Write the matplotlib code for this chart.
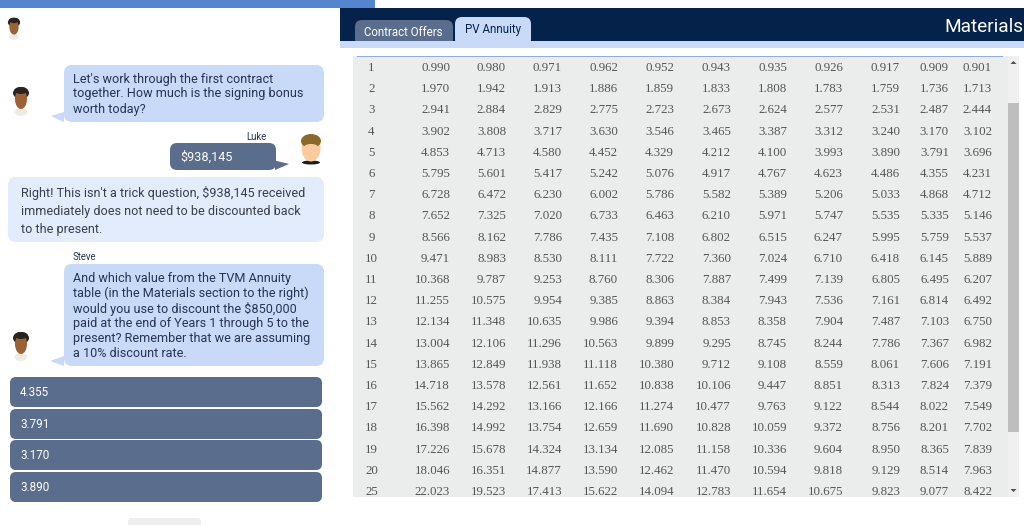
import matplotlib
matplotlib.use('Agg')
import matplotlib.pyplot as plt
from matplotlib.patches import Rectangle, FancyBboxPatch, Polygon, Ellipse

# table values, one list per rate column
periods = [1, 2, 3, 4, 5, 6, 7, 8, 9, 10, 11, 12, 13, 14, 15, 16, 17, 18, 19, 20, 25]
col1 = [0.990, 1.970, 2.941, 3.902, 4.853, 5.795, 6.728, 7.652, 8.566, 9.471, 10.368, 11.255, 12.134, 13.004, 13.865, 14.718, 15.562, 16.398, 17.226, 18.046, 22.023]
col2 = [0.980, 1.942, 2.884, 3.808, 4.713, 5.601, 6.472, 7.325, 8.162, 8.983, 9.787, 10.575, 11.348, 12.106, 12.849, 13.578, 14.292, 14.992, 15.678, 16.351, 19.523]
col3 = [0.971, 1.913, 2.829, 3.717, 4.580, 5.417, 6.230, 7.020, 7.786, 8.530, 9.253, 9.954, 10.635, 11.296, 11.938, 12.561, 13.166, 13.754, 14.324, 14.877, 17.413]
col4 = [0.962, 1.886, 2.775, 3.630, 4.452, 5.242, 6.002, 6.733, 7.435, 8.111, 8.760, 9.385, 9.986, 10.563, 11.118, 11.652, 12.166, 12.659, 13.134, 13.590, 15.622]
col5 = [0.952, 1.859, 2.723, 3.546, 4.329, 5.076, 5.786, 6.463, 7.108, 7.722, 8.306, 8.863, 9.394, 9.899, 10.380, 10.838, 11.274, 11.690, 12.085, 12.462, 14.094]
col6 = [0.943, 1.833, 2.673, 3.465, 4.212, 4.917, 5.582, 6.210, 6.802, 7.360, 7.887, 8.384, 8.853, 9.295, 9.712, 10.106, 10.477, 10.828, 11.158, 11.470, 12.783]
col7 = [0.935, 1.808, 2.624, 3.387, 4.100, 4.767, 5.389, 5.971, 6.515, 7.024, 7.499, 7.943, 8.358, 8.745, 9.108, 9.447, 9.763, 10.059, 10.336, 10.594, 11.654]
col8 = [0.926, 1.783, 2.577, 3.312, 3.993, 4.623, 5.206, 5.747, 6.247, 6.710, 7.139, 7.536, 7.904, 8.244, 8.559, 8.851, 9.122, 9.372, 9.604, 9.818, 10.675]
col9 = [0.917, 1.759, 2.531, 3.240, 3.890, 4.486, 5.033, 5.535, 5.995, 6.418, 6.805, 7.161, 7.487, 7.786, 8.061, 8.313, 8.544, 8.756, 8.950, 9.129, 9.823]
col10 = [0.909, 1.736, 2.487, 3.170, 3.791, 4.355, 4.868, 5.335, 5.759, 6.145, 6.495, 6.814, 7.103, 7.367, 7.606, 7.824, 8.022, 8.201, 8.365, 8.514, 9.077]
col11 = [0.901, 1.713, 2.444, 3.102, 3.696, 4.231, 4.712, 5.146, 5.537, 5.889, 6.207, 6.492, 6.750, 6.982, 7.191, 7.379, 7.549, 7.702, 7.839, 7.963, 8.422]
columns = [col1, col2, col3, col4, col5, col6, col7, col8, col9, col10, col11]
column_right = [450, 506, 562, 618, 674, 731, 787, 843, 900, 949, 992]

answers = ['4.355', '3.791', '3.170', '3.890']
answer_top = [377, 409, 440, 472]

NAVY = '#05234A'
SLATE = '#5A6D8C'
LIGHT = '#C8DAF8'
PALE = '#E2ECFD'
BODY = '#283450'
SANS = 'Roboto'
CHAT_SIZE = 9.05

fig = plt.figure(figsize=(10.24, 5.25), dpi=100)
ax = fig.add_axes([0, 0, 1, 1])
ax.set_xlim(0, 1024)
ax.set_ylim(525, 0)
ax.axis('off')


def box(x0, y0, x1, y1, color, r=8, z=1):
    ax.add_patch(FancyBboxPatch((x0, y0), x1 - x0, y1 - y0,
                                boxstyle=f'round,pad=0,rounding_size={r}',
                                fc=color, ec='none', zorder=z))


def rect(x0, y0, x1, y1, color, z=1):
    ax.add_patch(Rectangle((x0, y0), x1 - x0, y1 - y0, fc=color, ec='none', zorder=z))


def lines(x, y, rows, step, size=CHAT_SIZE, color=BODY):
    for i, row in enumerate(rows):
        ax.text(x, y + i * step, row, family=SANS, fontsize=size, color=color,
                ha='left', va='center', zorder=5)


def dark_avatar(cx, top, h):
    s = h / 30
    ax.add_patch(Ellipse((cx, top + 26 * s), 13 * s, 8 * s, fc='#EFEBE4', ec='none', zorder=3))
    ax.add_patch(Ellipse((cx, top + 13 * s), 12 * s, 20 * s, fc='#9A6235', ec='none', zorder=4))
    ax.add_patch(Ellipse((cx, top + 7 * s), 16 * s, 12 * s, fc='#2A2420', ec='none', zorder=3.5))
    ax.add_patch(Ellipse((cx, top + 4.5 * s), 13 * s, 7 * s, fc='#2A2420', ec='none', zorder=5))


def light_avatar(cx, top, h):
    s = h / 31
    ax.add_patch(Ellipse((cx, top + 28.5 * s), 18 * s, 4 * s, fc='#1C1C1C', ec='none', zorder=3))
    ax.add_patch(Ellipse((cx, top + 14 * s), 19 * s, 27 * s, fc='#FBCB9E', ec='none', zorder=4))
    ax.add_patch(Ellipse((cx, top + 7 * s), 20 * s, 14 * s, fc='#8A6A2C', ec='none', zorder=5))
    ax.add_patch(Ellipse((cx, top + 13 * s), 14 * s, 6 * s, fc='#FBCB9E', ec='none', zorder=5))


# page header
rect(0, 0, 375, 8, '#5585CE')
rect(340, 8, 1024, 41, NAVY)
box(355, 20, 453, 46, SLATE, r=7, z=1.5)
box(455, 17, 531, 46, LIGHT, r=7, z=1.5)
rect(340, 41, 1024, 48, LIGHT, z=2)
ax.text(403.5, 32, 'Contract Offers', family=SANS, fontsize=8.3, color='white', ha='center', va='center', zorder=5)
ax.text(493, 30, 'PV Annuity', family=SANS, fontsize=8.3, color=NAVY, ha='center', va='center', zorder=5)
ax.text(1024, 27, 'Materials', family=SANS, fontsize=13.7, color='white', ha='right', va='center', zorder=5)

# annuity table
rect(353, 56, 1008, 497, '#EBECEC')
rect(357, 56, 1003, 57, '#8FAEDD', z=2)
rect(1008, 56, 1019, 497, '#F0F0F0')
rect(1008, 103, 1019, 432, '#BEBEBE', z=2)
ax.add_patch(Polygon([(1013.5, 61), (1010.5, 64), (1016.5, 64)], fc='#505050', ec='none', zorder=3))
ax.add_patch(Polygon([(1013.5, 492), (1010.5, 489), (1016.5, 489)], fc='#505050', ec='none', zorder=3))

TABLE_SIZE = 9.3
for i, period in enumerate(periods):
    y = 68 + i * 21.2
    ax.text(371.5, y, str(period), family='Liberation Serif', fontsize=TABLE_SIZE, color='#555555',
            ha='center', va='center', zorder=5)
    for values, right in zip(columns, column_right):
        ax.text(right, y, f'{values[i]:.3f}', family='Liberation Serif', fontsize=TABLE_SIZE,
                color='#555555', ha='right', va='center', zorder=5)

# chat panel
dark_avatar(14, 17, 23)

box(64, 65, 324, 122, LIGHT)
ax.add_patch(Polygon([(51, 116), (64, 112), (64, 122)], fc=LIGHT, ec='none', zorder=1))
lines(73, 79, ["Let's work through the first contract",
               'together. How much is the signing bonus',
               'worth today?'], 15)
dark_avatar(21, 86, 30)

ax.text(256, 136.5, 'Luke', family=SANS, fontsize=6.9, color=BODY, ha='center', va='center')
box(170, 143, 276, 170, SLATE, r=7)
ax.add_patch(Polygon([(275, 160.5), (289, 164), (275, 170)], fc=SLATE, ec='none', zorder=1))
lines(180, 157.5, ['$938,145'], 15, color='white')
light_avatar(311, 134, 31)

box(8, 177, 324, 242, PALE)
lines(21, 193, ["Right! This isn't a trick question, $938,145 received",
                'immediately does not need to be discounted back',
                'to the present.'], 18, color='#3A4048')

ax.text(84, 257.5, 'Steve', family=SANS, fontsize=6.9, color=BODY, ha='center', va='center')
box(64, 264, 324, 366, LIGHT)
ax.add_patch(Polygon([(50, 361), (64, 356), (64, 366)], fc=LIGHT, ec='none', zorder=1))
lines(73, 278.5, ['And which value from the TVM Annuity',
                  'table (in the Materials section to the right)',
                  'would you use to discount the $850,000',
                  'paid at the end of Years 1 through 5 to the',
                  'present? Remember that we are assuming',
                  'a 10% discount rate.'], 15)
dark_avatar(21, 331, 30)

# answer choices
for answer, top in zip(answers, answer_top):
    box(10, top, 322, top + 30, SLATE, r=6)
    ax.text(20, top + 15.5, answer, family=SANS, fontsize=8.4, color='white', ha='left', va='center', zorder=5)

box(128, 518, 201, 540, '#EEEEEE', r=4)

fig.savefig('out.png', dpi=100)
